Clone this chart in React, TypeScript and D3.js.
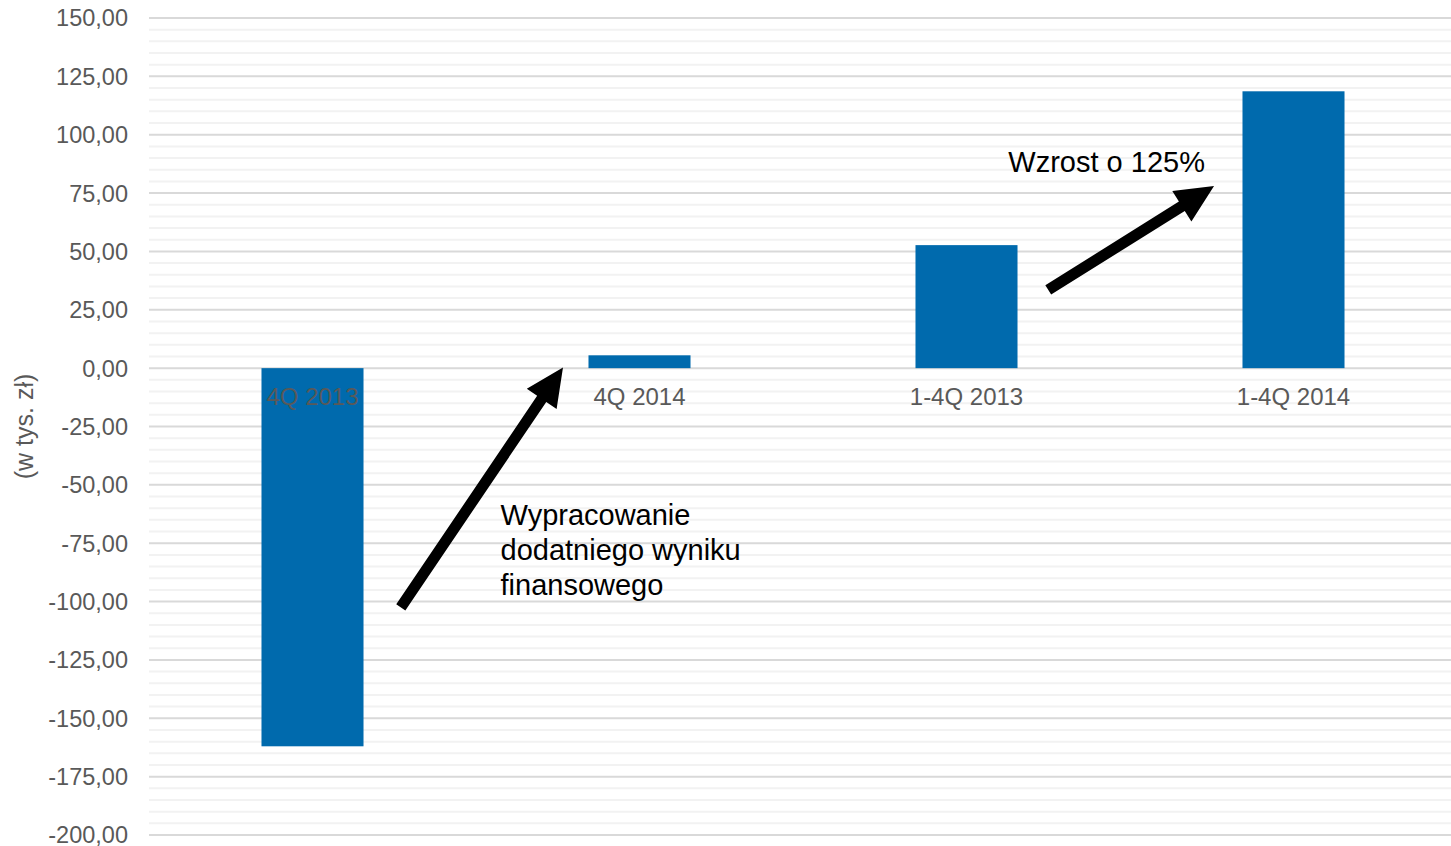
import React from "react";
import * as d3 from "d3";

const categories = ["4Q 2013", "4Q 2014", "1-4Q 2013", "1-4Q 2014"];
const values = [-162.0, 5.5, 52.7, 118.6];
const yTicks = [150, 125, 100, 75, 50, 25, 0, -25, -50, -75, -100, -125, -150, -175, -200];
const yAxisTitle = "(w tys. zł)";

// annotation arrows in data space: [category index, value]
const arrows = [
  { from: [0.27, -102.5], to: [0.766, 0.3] },
  { from: [2.25, 33.5], to: [2.757, 78.0] },
];
const notes = [
  { idx: 0.575, val: -67.3, lines: ["Wypracowanie", "dodatniego wyniku", "finansowego"] },
  { idx: 2.128, val: 84, lines: ["Wzrost o 125%"] },
];

const W = 1451;
const H = 846;
const FONT = "'Liberation Sans', Arial, sans-serif";

export default function App() {
  const plotLeft = 149;
  const step = 327;
  const x = d3
    .scaleBand<string>()
    .domain(categories)
    .range([plotLeft, plotLeft + step * categories.length])
    .paddingInner(0.688)
    .paddingOuter(0.344);
  const xi = d3
    .scaleLinear()
    .domain([0, 1])
    .range([plotLeft + step / 2, plotLeft + step * 1.5]);
  const y = d3.scaleLinear().domain([-200, 150]).range([835, 18]);

  const minor = d3.range(-200, 150.001, 5).filter((v) => Math.abs(v % 25) > 0.001);

  const arrowPath = (fx: number, fy: number, tx: number, ty: number) => {
    const dx = tx - fx;
    const dy = ty - fy;
    const len = Math.hypot(dx, dy);
    const ux = dx / len;
    const uy = dy / len;
    const nx = -uy;
    const ny = ux;
    const headLen = 38;
    const headHalf = 18;
    const shaftHalf = 5.5;
    const bx = tx - ux * headLen;
    const by = ty - uy * headLen;
    const pts = [
      [fx + nx * shaftHalf, fy + ny * shaftHalf],
      [bx + nx * shaftHalf, by + ny * shaftHalf],
      [bx + nx * headHalf, by + ny * headHalf],
      [tx, ty],
      [bx - nx * headHalf, by - ny * headHalf],
      [bx - nx * shaftHalf, by - ny * shaftHalf],
      [fx - nx * shaftHalf, fy - ny * shaftHalf],
    ];
    return "M" + pts.map((p) => p.join(",")).join("L") + "Z";
  };

  return (
    <div style={{ position: "absolute", left: 0, top: 0, width: W, height: H, overflow: "hidden", background: "#fff" }}>
      <svg width={W} height={H} style={{ display: "block", fontFamily: FONT }}>
        <rect width={W} height={H} fill="#fff" />
        {minor.map((v) => (
          <line key={"m" + v} x1={plotLeft} x2={W} y1={y(v)} y2={y(v)} stroke="#f2f2f2" strokeWidth={2} />
        ))}
        {yTicks.map((v) => (
          <line key={"g" + v} x1={plotLeft} x2={W} y1={y(v)} y2={y(v)} stroke="#d9d9d9" strokeWidth={2} />
        ))}
        {yTicks.map((v) => (
          <text
            key={"t" + v}
            x={128}
            y={y(v)}
            dy="0.36em"
            textAnchor="end"
            fontSize={23.5}
            fill="#595959"
          >
            {d3.format(".2f")(v).replace(".", ",").replace("−", "-")}
          </text>
        ))}
        <text
          transform={`translate(33, ${y(-25)}) rotate(-90)`}
          textAnchor="middle"
          fontSize={25}
          fill="#595959"
        >
          {yAxisTitle}
        </text>
        {categories.map((c, i) => {
          const v = values[i];
          return (
            <rect
              key={"b" + c}
              x={x(c)}
              width={x.bandwidth()}
              y={y(Math.max(0, v))}
              height={Math.abs(y(v) - y(0))}
              fill="#006aad"
            />
          );
        })}
        {categories.map((c) => (
          <text
            key={"c" + c}
            x={(x(c) as number) + x.bandwidth() / 2}
            y={y(0) + 37}
            textAnchor="middle"
            fontSize={24}
            fill="#595959"
          >
            {c}
          </text>
        ))}
        {arrows.map((a, i) => (
          <path
            key={"a" + i}
            d={arrowPath(xi(a.from[0]), y(a.from[1]), xi(a.to[0]), y(a.to[1]))}
            fill="#000"
          />
        ))}
        {notes.map((n, i) => (
          <text key={"n" + i} x={xi(n.idx)} y={y(n.val)} fontSize={29} fill="#000">
            {n.lines.map((l, j) => (
              <tspan key={j} x={xi(n.idx)} dy={j === 0 ? 0 : 35}>
                {l}
              </tspan>
            ))}
          </text>
        ))}
      </svg>
    </div>
  );
}
